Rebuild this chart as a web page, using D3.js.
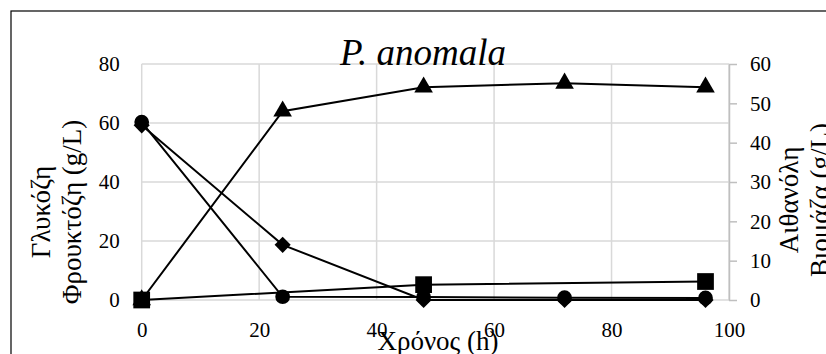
<!DOCTYPE html>
<html><head><meta charset="utf-8"><script src="https://cdn.jsdelivr.net/npm/d3@7"></script>
<style>
  svg text { font-family: 'Liberation Serif', 'Times New Roman', Tinos, FreeSerif !important; }
</style>
</head>
<body style="margin:0">
<svg id="chart" width="826" height="354"></svg>
<script>
// ---- data ----
const time = [0, 24, 48, 72, 96];
const glucose = [60.3, 1.1, 1.0, 0.8, 0.7];      // left axis, circle
const fructose = [59.2, 18.7, 0, 0, 0];           // left axis, diamond
const ethanol = [0, 48, 54.1, 55.1, 54.1];        // right axis, triangle
const biomassTime = [0, 48, 96];
const biomass = [0, 3.9, 4.7];                    // right axis, square
const xTicks = [0, 20, 40, 60, 80, 100];
const yLeftTicks = [0, 20, 40, 60, 80];
const yRightTicks = [0, 10, 20, 30, 40, 50, 60];
const title = "P. anomala";
const xTitle = "Χρόνος (h)";
const yLeftTitle = ["Γλυκόζη", "Φρουκτόζη (g/L)"];
const yRightTitle = ["Αιθανόλη", "Βιομάζα (g/L)"];

const FONT = "'Liberation Serif', 'Times New Roman', Tinos, FreeSerif";
const svg = d3.select("#chart");
const L = 141.7, R = 729, T = 64, B = 300;

const x = d3.scaleLinear().domain([0, 100]).range([L, R]);
const yL = d3.scaleLinear().domain([0, 80]).range([B, T]);
const yR = d3.scaleLinear().domain([0, 60]).range([B, T]);

function setFont(sel, size) {
  sel.attr("font-family", FONT).attr("font-size", size)
     .style("font-family", FONT).style("font-size", size + "px");
  return sel;
}

// outer border
svg.append("rect").attr("x", 11).attr("y", 11).attr("width", 900).attr("height", 400)
  .attr("fill", "none").attr("stroke", "#000").attr("stroke-width", 1.2);

// gridlines
const grid = svg.append("g");
grid.selectAll("line.h").data(yLeftTicks).join("line")
  .attr("x1", L).attr("x2", R).attr("y1", d => yL(d)).attr("y2", d => yL(d))
  .attr("stroke", "#d9d9d9").attr("stroke-width", 1.5);
grid.selectAll("line.v").data(xTicks).join("line")
  .attr("y1", T).attr("y2", B).attr("x1", d => x(d)).attr("x2", d => x(d))
  .attr("stroke", "#d9d9d9").attr("stroke-width", 1.5);

// axes (built with d3 axes, text restyled)
const fs = 21;
function fixAxis(sel) {
  sel.attr("font-family", FONT).attr("font-size", fs);
  setFont(sel.selectAll("text"), fs).attr("fill", "#000");
}
const xAxis = svg.append("g").attr("transform", `translate(0,${B})`)
  .call(d3.axisBottom(x).tickValues(xTicks).tickSize(0).tickPadding(37));
fixAxis(xAxis);
xAxis.select(".domain").remove();
xAxis.selectAll("text").attr("dy", 0);

const lAxis = svg.append("g").attr("transform", `translate(${L},0)`)
  .call(d3.axisLeft(yL).tickValues(yLeftTicks).tickSize(0).tickPadding(22));
fixAxis(lAxis);
lAxis.select(".domain").remove();
lAxis.selectAll("text").attr("dy", "0.33em");

const rAxis = svg.append("g").attr("transform", `translate(${R},0)`)
  .call(d3.axisRight(yR).tickValues(yRightTicks).tickSize(8).tickPadding(13).tickSizeOuter(0));
fixAxis(rAxis);
rAxis.select(".domain").attr("stroke", "#bfbfbf").attr("stroke-width", 1.5);
rAxis.selectAll(".tick line").attr("stroke", "#bfbfbf").attr("stroke-width", 1.5);
rAxis.selectAll("text").attr("dy", "0.33em");

// lines + markers
const lineL = d3.line().x(d => x(d[0])).y(d => yL(d[1]));
const lineR = d3.line().x(d => x(d[0])).y(d => yR(d[1]));
const g = svg.append("g");

function series(ts, vs, lineGen, yScale, shape, size, rot) {
  const pts = ts.map((t, i) => [t, vs[i]]);
  g.append("path").datum(pts).attr("d", lineGen)
    .attr("fill", "none").attr("stroke", "#000").attr("stroke-width", 2);
  g.selectAll(null).data(pts).join("path")
    .attr("transform", d => `translate(${x(d[0])},${yScale(d[1])}) rotate(${rot})`)
    .attr("d", d3.symbol().type(shape).size(size))
    .attr("fill", "#000");
}
series(time, glucose, lineL, yL, d3.symbolCircle, 170, 0);
series(time, fructose, lineL, yL, d3.symbolSquare, 130, 45);
series(time, ethanol, lineR, yR, d3.symbolTriangle, 150, 0);
series(biomassTime, biomass, lineR, yR, d3.symbolSquare, 280, 0);

// title
setFont(svg.append("text").attr("x", 423).attr("y", 65).attr("text-anchor", "middle"), 37)
  .attr("font-style", "italic").style("font-style", "italic").text(title);

// x title
setFont(svg.append("text").attr("x", 438).attr("y", 350).attr("text-anchor", "middle"), 27)
  .text(xTitle);

// left title
yLeftTitle.forEach((t, i) => {
  setFont(svg.append("text").attr("transform", `translate(${50 + i * 31},212) rotate(-90)`)
    .attr("text-anchor", "middle"), 27).text(t);
});
// right title
yRightTitle.forEach((t, i) => {
  setFont(svg.append("text").attr("transform", `translate(${798 + i * 31},200) rotate(-90)`)
    .attr("text-anchor", "middle"), 27).text(t);
});
</script>
</body></html>
